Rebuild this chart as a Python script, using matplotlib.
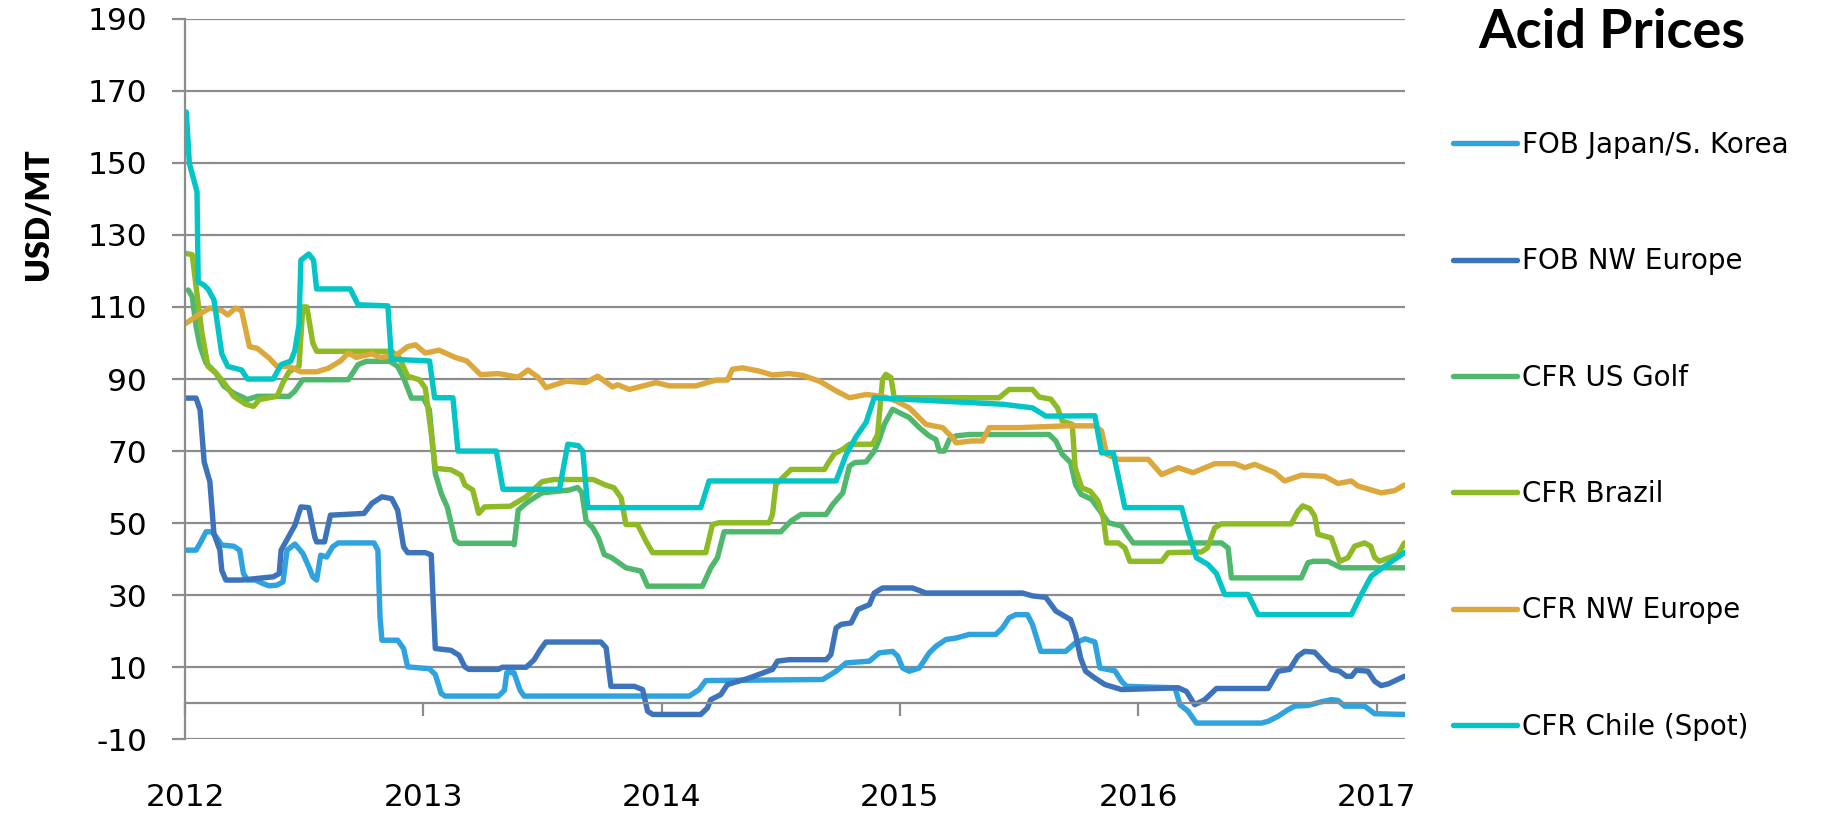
#
#   acid prices 2012-2017, weekly series
#

import matplotlib
matplotlib.use("Agg")
import matplotlib.pyplot as plt

plt.rcParams['font.family'] = ['DejaVu Sans']
plt.rcParams['axes.unicode_minus'] = False

# decimal years / USD per MT
japan_x = [2012.005, 2012.046, 2012.063, 2012.088, 2012.113, 2012.130, 2012.154, 2012.204, 2012.229,
           2012.245, 2012.262, 2012.295, 2012.328, 2012.353, 2012.386, 2012.411, 2012.428, 2012.461,
           2012.494, 2012.519, 2012.536, 2012.552, 2012.569, 2012.594, 2012.619, 2012.643, 2012.793,
           2012.809, 2012.818, 2012.826, 2012.892, 2012.917, 2012.934, 2013.025, 2013.050, 2013.075,
           2013.091, 2013.315, 2013.340, 2013.350, 2013.380, 2013.406, 2013.423, 2014.116, 2014.157,
           2014.185, 2014.676, 2014.732, 2014.774, 2014.872, 2014.913, 2014.969, 2014.990, 2015.011,
           2015.039, 2015.081, 2015.123, 2015.151, 2015.193, 2015.235, 2015.290, 2015.402, 2015.430,
           2015.458, 2015.486, 2015.535, 2015.556, 2015.591, 2015.695, 2015.737, 2015.777, 2015.818,
           2015.839, 2015.902, 2015.930, 2015.951, 2016.154, 2016.175, 2016.209, 2016.244, 2016.517,
           2016.545, 2016.587, 2016.628, 2016.656, 2016.712, 2016.768, 2016.810, 2016.838, 2016.866,
           2016.950, 2016.992, 2017.117]
japan_y = [42.5, 42.5, 44.4, 47.6, 47.6, 46.2, 43.9, 43.6, 42.5,
           36.0, 34.2, 34.2, 33.2, 32.6, 32.8, 33.7, 42.5, 44.2,
           41.6, 37.9, 35.1, 34.2, 41.1, 40.6, 43.4, 44.5, 44.5,
           42.5, 24.0, 17.5, 17.5, 15.2, 10.1, 9.6, 8.0, 2.7,
           2.0, 2.0, 3.6, 8.5, 8.5, 3.6, 2.0, 2.0, 3.8,
           6.3, 6.6, 8.9, 11.2, 11.7, 14.0, 14.4, 13.1, 9.8,
           8.9, 9.8, 14.0, 15.8, 17.7, 18.1, 19.1, 19.1, 20.9,
           23.7, 24.6, 24.6, 21.9, 14.4, 14.4, 16.8, 17.9, 17.0,
           9.8, 9.0, 6.1, 4.7, 4.3, -0.4, -2.2, -5.5, -5.5,
           -5.0, -3.6, -1.8, -0.8, -0.6, 0.4, 1.0, 0.8, -0.8,
           -0.8, -2.9, -3.1]

nweu_x = [2012.000, 2012.046, 2012.063, 2012.080, 2012.104, 2012.121, 2012.146, 2012.154, 2012.171,
          2012.237, 2012.370, 2012.395, 2012.403, 2012.430, 2012.461, 2012.486, 2012.519, 2012.544,
          2012.552, 2012.585, 2012.610, 2012.751, 2012.784, 2012.826, 2012.867, 2012.892, 2012.917,
          2012.934, 2013.008, 2013.033, 2013.041, 2013.050, 2013.116, 2013.150, 2013.174, 2013.191,
          2013.315, 2013.331, 2013.431, 2013.464, 2013.489, 2013.514, 2013.745, 2013.767, 2013.787,
          2013.885, 2013.920, 2013.941, 2013.962, 2014.164, 2014.192, 2014.206, 2014.248, 2014.276,
          2014.367, 2014.465, 2014.486, 2014.535, 2014.690, 2014.710, 2014.732, 2014.753, 2014.795,
          2014.823, 2014.872, 2014.892, 2014.927, 2015.053, 2015.109, 2015.514, 2015.556, 2015.612,
          2015.654, 2015.690, 2015.716, 2015.737, 2015.758, 2015.779, 2015.818, 2015.860, 2015.930,
          2016.168, 2016.202, 2016.237, 2016.279, 2016.328, 2016.545, 2016.587, 2016.635, 2016.670,
          2016.698, 2016.740, 2016.775, 2016.810, 2016.845, 2016.873, 2016.895, 2016.915, 2016.964,
          2016.992, 2017.019, 2017.050, 2017.117]
nweu_y = [84.7, 84.7, 81.4, 67.0, 61.5, 47.1, 42.5, 36.9, 34.2,
          34.2, 35.1, 36.0, 42.5, 45.7, 49.4, 54.5, 54.3, 46.2,
          44.8, 44.8, 52.2, 52.7, 55.5, 57.3, 56.8, 53.6, 43.4,
          41.8, 41.8, 41.2, 28.6, 15.2, 14.7, 13.3, 10.1, 9.4,
          9.4, 10.0, 10.0, 12.0, 14.7, 17.0, 17.0, 15.4, 4.7,
          4.7, 3.8, -2.2, -3.1, -3.1, -1.3, 1.0, 2.4, 5.2,
          7.0, 9.4, 11.7, 12.1, 12.1, 13.5, 20.9, 21.9, 22.3,
          26.0, 27.4, 30.6, 32.0, 32.0, 30.6, 30.6, 29.8, 29.4,
          25.6, 24.2, 23.2, 19.1, 12.6, 8.9, 7.0, 5.2, 3.8,
          4.3, 3.3, -0.4, 1.0, 4.1, 4.1, 8.9, 9.4, 13.1,
          14.4, 14.2, 11.7, 9.4, 8.9, 7.5, 7.5, 9.2, 8.9,
          6.1, 4.9, 5.4, 7.5]

usgolf_x = [2012.013, 2012.030, 2012.046, 2012.063, 2012.088, 2012.129, 2012.163, 2012.204, 2012.262,
            2012.303, 2012.436, 2012.460, 2012.494, 2012.685, 2012.726, 2012.760, 2012.859, 2012.892,
            2012.917, 2012.950, 2013.000, 2013.025, 2013.050, 2013.075, 2013.100, 2013.133, 2013.150,
            2013.373, 2013.381, 2013.398, 2013.431, 2013.450, 2013.498, 2013.614, 2013.647, 2013.665,
            2013.683, 2013.711, 2013.735, 2013.759, 2013.790, 2013.850, 2013.913, 2013.941, 2014.171,
            2014.206, 2014.234, 2014.262, 2014.500, 2014.543, 2014.585, 2014.690, 2014.718, 2014.760,
            2014.788, 2014.810, 2014.858, 2014.892, 2014.913, 2014.934, 2014.969, 2015.011, 2015.039,
            2015.081, 2015.123, 2015.151, 2015.165, 2015.186, 2015.207, 2015.235, 2015.290, 2015.626,
            2015.654, 2015.681, 2015.716, 2015.737, 2015.760, 2015.804, 2015.860, 2015.875, 2015.930,
            2015.958, 2015.979, 2016.349, 2016.377, 2016.391, 2016.684, 2016.712, 2016.735, 2016.796,
            2016.852, 2016.964, 2017.117]
usgolf_y = [114.7, 112.9, 104.6, 99.0, 94.4, 91.7, 88.0, 86.1, 84.3,
            85.2, 85.2, 86.6, 89.8, 89.8, 94.0, 94.9, 94.9, 93.5,
            90.3, 84.7, 84.7, 81.5, 63.8, 58.2, 54.5, 45.3, 44.4,
            44.4, 44.0, 53.6, 55.5, 56.4, 58.4, 59.2, 59.9, 58.5,
            50.6, 48.7, 45.9, 41.3, 40.4, 37.6, 36.7, 32.5, 32.5,
            37.6, 40.4, 47.6, 47.6, 50.6, 52.4, 52.4, 55.2, 58.4,
            65.8, 66.8, 67.0, 70.0, 73.2, 77.4, 81.6, 80.2, 79.3,
            76.5, 74.2, 73.2, 70.0, 70.0, 73.2, 74.2, 74.6, 74.6,
            72.8, 69.1, 66.8, 60.7, 58.0, 56.6, 51.5, 50.1, 49.2,
            46.4, 44.5, 44.5, 43.1, 34.8, 34.8, 39.0, 39.4, 39.4,
            37.6, 37.6, 37.6]

brazil_x = [2012.000, 2012.030, 2012.046, 2012.071, 2012.096, 2012.129, 2012.163, 2012.204, 2012.254,
            2012.287, 2012.312, 2012.386, 2012.411, 2012.436, 2012.478, 2012.494, 2012.511, 2012.536,
            2012.552, 2012.867, 2012.900, 2012.934, 2012.983, 2013.008, 2013.033, 2013.050, 2013.116,
            2013.158, 2013.174, 2013.207, 2013.232, 2013.257, 2013.365, 2013.431, 2013.498, 2013.547,
            2013.713, 2013.763, 2013.800, 2013.830, 2013.850, 2013.899, 2013.934, 2013.962, 2014.185,
            2014.213, 2014.240, 2014.451, 2014.465, 2014.479, 2014.500, 2014.543, 2014.683, 2014.700,
            2014.725, 2014.760, 2014.788, 2014.885, 2014.906, 2014.927, 2014.941, 2014.962, 2014.976,
            2015.416, 2015.458, 2015.556, 2015.584, 2015.633, 2015.661, 2015.681, 2015.723, 2015.735,
            2015.763, 2015.798, 2015.832, 2015.853, 2015.867, 2015.916, 2015.944, 2015.965, 2016.098,
            2016.126, 2016.265, 2016.290, 2016.321, 2016.349, 2016.642, 2016.670, 2016.690, 2016.720,
            2016.740, 2016.754, 2016.810, 2016.845, 2016.880, 2016.908, 2016.950, 2016.975, 2016.992,
            2017.012, 2017.089, 2017.117]
brazil_y = [124.9, 124.5, 115.7, 102.7, 93.5, 91.7, 89.0, 85.2, 83.0,
            82.4, 84.3, 85.2, 89.0, 92.0, 93.5, 110.0, 110.0, 100.0,
            97.7, 97.7, 95.8, 90.8, 89.8, 87.5, 74.9, 65.2, 64.8,
            63.3, 60.6, 59.2, 52.7, 54.5, 54.7, 57.3, 61.5, 62.1,
            62.1, 60.6, 59.8, 57.0, 49.6, 49.6, 45.0, 41.8, 41.8,
            49.6, 50.1, 50.1, 52.4, 60.7, 62.1, 64.9, 64.9, 66.8,
            69.3, 70.5, 71.9, 71.9, 74.6, 89.9, 91.3, 90.4, 84.8,
            84.8, 87.1, 87.1, 85.0, 84.4, 82.0, 78.3, 77.4, 65.4,
            59.8, 58.9, 56.1, 51.5, 44.5, 44.5, 43.1, 39.4, 39.4,
            41.8, 42.0, 43.1, 48.7, 49.8, 49.8, 53.3, 54.8, 54.0,
            52.0, 46.9, 45.9, 39.4, 40.4, 43.6, 44.5, 43.6, 40.5,
            39.4, 41.3, 44.5]

cfreu_x = [2012.005, 2012.055, 2012.104, 2012.154, 2012.179, 2012.212, 2012.237, 2012.270, 2012.303,
           2012.353, 2012.386, 2012.436, 2012.486, 2012.552, 2012.602, 2012.652, 2012.685, 2012.718,
           2012.784, 2012.818, 2012.884, 2012.934, 2012.967, 2013.008, 2013.066, 2013.133, 2013.182,
           2013.240, 2013.315, 2013.398, 2013.439, 2013.481, 2013.515, 2013.599, 2013.683, 2013.731,
           2013.794, 2013.815, 2013.864, 2013.976, 2014.032, 2014.144, 2014.227, 2014.276, 2014.297,
           2014.339, 2014.409, 2014.465, 2014.535, 2014.592, 2014.662, 2014.732, 2014.788, 2014.858,
           2014.927, 2014.983, 2015.039, 2015.109, 2015.179, 2015.221, 2015.235, 2015.300, 2015.346,
           2015.374, 2015.500, 2015.700, 2015.818, 2015.846, 2015.867, 2015.916, 2016.042, 2016.098,
           2016.168, 2016.230, 2016.321, 2016.405, 2016.447, 2016.489, 2016.573, 2016.614, 2016.684,
           2016.782, 2016.838, 2016.894, 2016.922, 2017.019, 2017.075, 2017.117]
cfreu_y = [105.5, 107.8, 109.7, 109.0, 107.8, 109.7, 109.0, 99.0, 98.5,
           95.8, 93.5, 93.5, 92.0, 92.0, 93.0, 95.0, 97.2, 96.0,
           97.0, 96.0, 96.5, 99.0, 99.5, 97.2, 98.0, 96.0, 95.0,
           91.2, 91.5, 90.5, 92.5, 90.5, 87.6, 89.4, 89.0, 90.8,
           87.8, 88.4, 87.1, 89.0, 88.1, 88.1, 89.7, 89.7, 92.7,
           93.1, 92.2, 91.1, 91.5, 91.0, 89.4, 86.7, 84.8, 85.7,
           85.2, 83.9, 82.0, 77.4, 76.5, 73.7, 72.3, 72.8, 72.8,
           76.5, 76.5, 77.0, 77.0, 75.6, 69.1, 67.7, 67.7, 63.5,
           65.4, 64.0, 66.5, 66.5, 65.4, 66.3, 64.0, 61.7, 63.3,
           63.0, 61.0, 61.7, 60.3, 58.4, 59.0, 60.6]

chile_x = [2012.005, 2012.018, 2012.050, 2012.055, 2012.080, 2012.096, 2012.121, 2012.154, 2012.179,
           2012.237, 2012.262, 2012.370, 2012.403, 2012.444, 2012.461, 2012.478, 2012.486, 2012.519,
           2012.539, 2012.552, 2012.693, 2012.726, 2012.851, 2012.866, 2013.026, 2013.047, 2013.124,
           2013.145, 2013.306, 2013.334, 2013.571, 2013.606, 2013.650, 2013.669, 2013.690, 2014.164,
           2014.199, 2014.732, 2014.774, 2014.816, 2014.858, 2014.892, 2015.430, 2015.556, 2015.612,
           2015.818, 2015.846, 2015.895, 2015.944, 2016.182, 2016.209, 2016.244, 2016.293, 2016.328,
           2016.363, 2016.461, 2016.503, 2016.894, 2016.936, 2016.978, 2017.033, 2017.117]
chile_y = [164.1, 149.8, 142.0, 117.0, 116.0, 115.0, 112.0, 97.0, 93.5,
           92.5, 90.0, 90.0, 94.0, 95.0, 98.0, 105.0, 123.0, 124.7,
           123.0, 115.0, 115.0, 110.6, 110.3, 95.5, 95.0, 84.8, 84.8,
           70.0, 70.0, 59.4, 59.4, 71.9, 71.5, 70.0, 54.3, 54.3,
           61.7, 61.7, 69.0, 74.0, 78.0, 84.8, 83.0, 82.0, 79.7,
           79.8, 69.5, 69.5, 54.3, 54.3, 47.8, 40.4, 38.5, 36.0,
           30.2, 30.2, 24.6, 24.6, 30.2, 35.3, 38.0, 41.8]

series = [
    ('FOB Japan/S. Korea', japan_x, japan_y, '#2ea3df'),
    ('FOB NW Europe', nweu_x, nweu_y, '#3d73bb'),
    ('CFR US Golf', usgolf_x, usgolf_y, '#4fb86d'),
    ('CFR Brazil', brazil_x, brazil_y, '#8dba25'),
    ('CFR NW Europe', cfreu_x, cfreu_y, '#dca83c'),
    ('CFR Chile (Spot)', chile_x, chile_y, '#04c5c6'),
]
years = [2012, 2013, 2014, 2015, 2016, 2017]
yticks = list(range(-10, 191, 20))

GRID = '#8c8c8c'

fig = plt.figure(figsize=(18.38, 8.17), dpi=100)
ax = fig.add_axes([0.1007, 0.0951, 0.6638, 0.882])

for name, xs, ys, col in series:
    ax.plot(xs, ys, color=col, lw=3.9, label=name, solid_joinstyle='round', solid_capstyle='round')

ax.set_xlim(2012, 2017.12)
ax.set_ylim(-10, 190)
ax.set_yticks(yticks)
ax.set_yticklabels([str(v) for v in yticks])
ax.set_xticks(years)
ax.set_xticklabels([str(y) for y in years])
ax.grid(axis='y', color=GRID, lw=1.6)
ax.set_axisbelow(True)

for s in ('top', 'right'):
    ax.spines[s].set_visible(False)
ax.spines['left'].set_color(GRID)
ax.spines['left'].set_linewidth(1.6)
ax.spines['bottom'].set_color(GRID)
ax.spines['bottom'].set_linewidth(1.6)
ax.spines['bottom'].set_position(('data', 0))

ax.tick_params(axis='y', length=9.4, width=1.6, color=GRID, pad=18, labelsize=22.5)
ax.tick_params(axis='x', direction='out', length=9.4, width=1.6, color=GRID, pad=48, labelsize=22.5)

fig.text(39 / 1838, 1 - 214 / 817, 'USD/MT', rotation=90, ha='center', va='center',
         fontsize=23, fontweight='heavy', family='Lato')
fig.text(1612 / 1838, 1 - 32 / 817, 'Acid Prices', ha='center', va='center',
         fontsize=39, fontweight='bold', family='Lato')

ax.legend(loc='upper left', bbox_to_anchor=(0.7905, 0.8397), bbox_transform=fig.transFigure,
          frameon=False, fontsize=20, handlelength=2.3, handletextpad=0.2,
          labelspacing=3.18, borderaxespad=0, borderpad=0)

fig.savefig('out.png', dpi=100)
